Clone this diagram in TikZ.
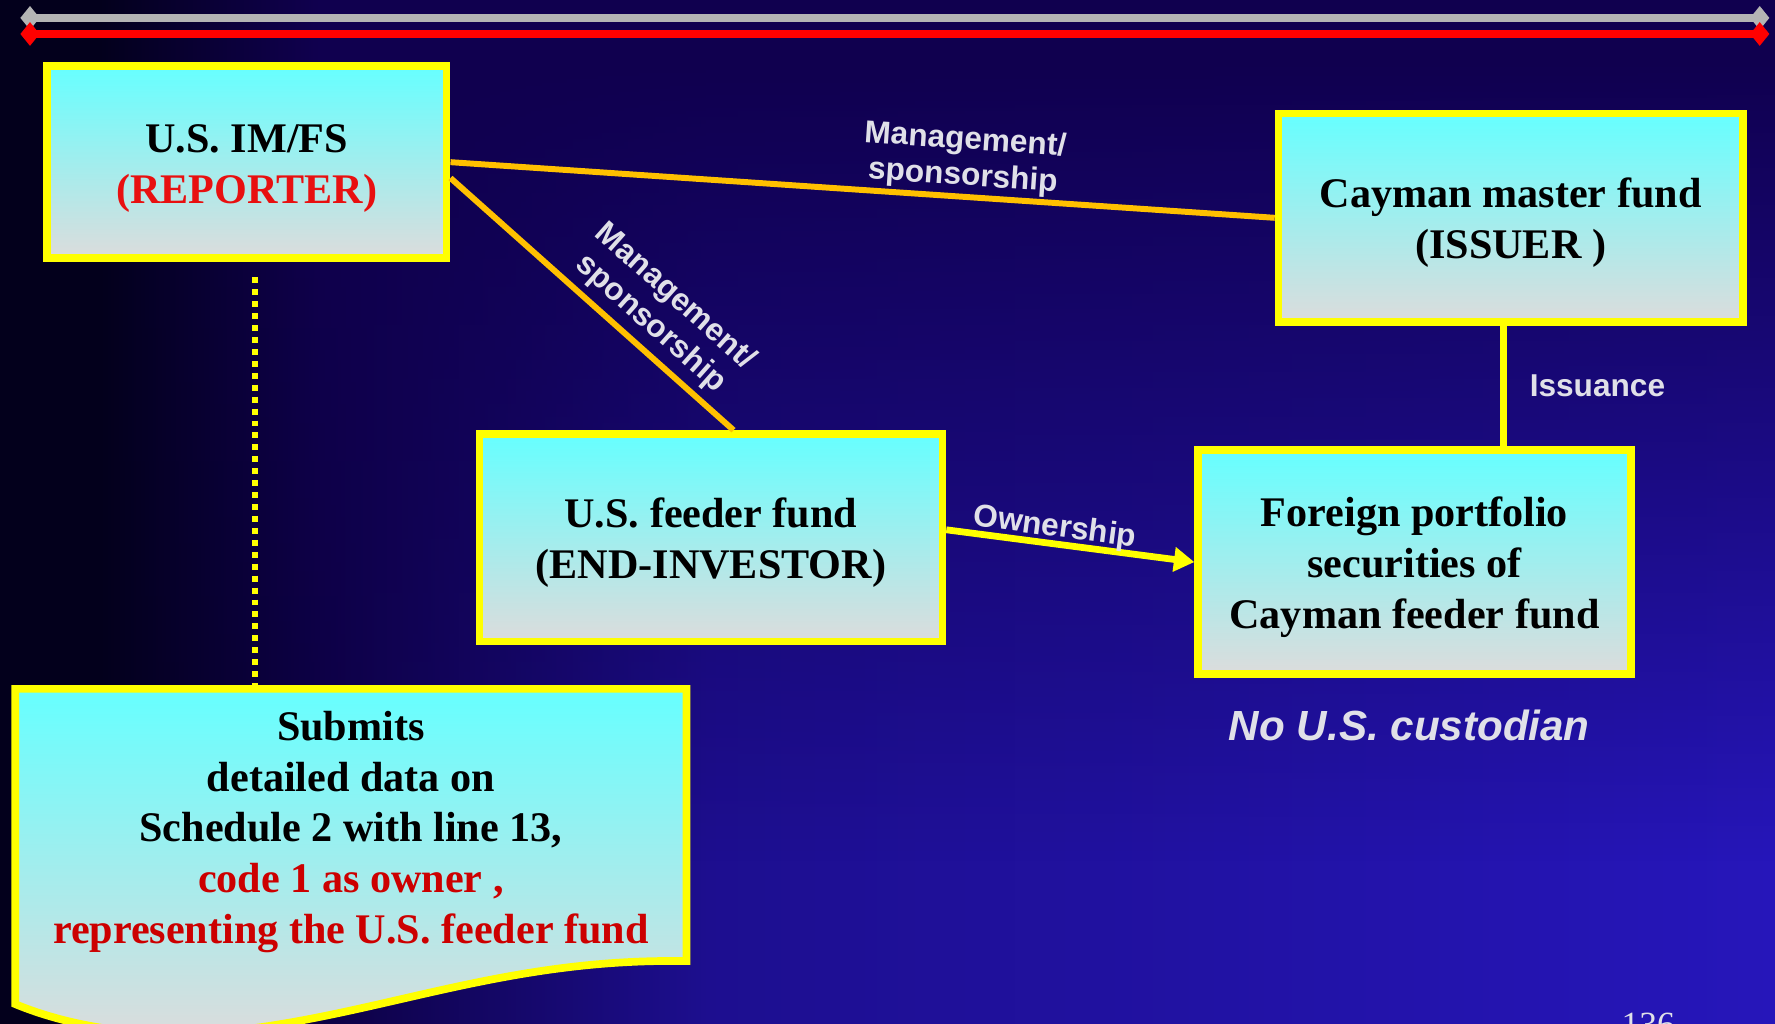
\documentclass[tikz,border=0pt]{standalone}
\usepackage{fontspec}
\setmainfont{Liberation Serif}
\setsansfont{Liberation Sans}
\usepackage{tikz}
\usetikzlibrary{shapes,arrows,arrows.meta}
\usetikzlibrary{calc}
\usetikzlibrary{positioning,fadings}
\definecolor{bgtop}{HTML}{10004F}
\definecolor{bgdark}{HTML}{03001C}
\definecolor{bgmid}{HTML}{0C0040}
\definecolor{bgblue}{HTML}{2616BA}
\colorlet{bgmidblue}{bgblue!65!bgmid}
\definecolor{bxcyan}{HTML}{66FFFF}
\definecolor{bxgray}{HTML}{DCDCDC}
\definecolor{bxyellow}{HTML}{FFFF00}
\definecolor{mgorange}{HTML}{FFC000}
\definecolor{lblgray}{HTML}{E0E0E8}
\definecolor{bargray}{HTML}{B4B4B4}
\definecolor{barred}{HTML}{FF0000}
\definecolor{txtred}{HTML}{CC0000}
\definecolor{repred}{HTML}{E81010}
\pgfdeclarehorizontalshading{bgshade}{100bp}{color(0bp)=(bgdark); color(25bp)=(bgdark); color(27.8bp)=(bgdark); color(33.5bp)=(bgmid); color(45bp)=(bgmidblue); color(75bp)=(bgblue); color(100bp)=(bgblue)}
\pgfdeclarehorizontalshading{topshade}{100bp}{color(0bp)=(bgdark); color(25bp)=(bgdark); color(27.8bp)=(bgdark); color(34bp)=(bgtop); color(100bp)=(bgtop)}
% extra room above the lines pushes the text a little down in its box
\newcommand{\boxlines}[1]{\raisebox{0pt}[\dimexpr\height+0.19cm\relax][\depth]{\begin{tabular}{@{}c@{}}#1\end{tabular}}}
\tikzstyle{fundbox} = [draw=bxyellow, line width=3.86pt, top color=bxcyan, bottom color=bxgray, inner sep=0pt, font=\bfseries\fontsize{21.2}{25.6}\selectfont]
\tikzstyle{docshape} = [draw=bxyellow, line width=3.86pt, top color=bxcyan, bottom color=bxgray]
\tikzstyle{doctext} = [inner sep=0pt, font=\bfseries\fontsize{21.2}{25.6}\selectfont]
\tikzstyle{mgline} = [draw=mgorange, line width=3pt]
\tikzstyle{link} = [draw=bxyellow, line width=3.4pt]
\tikzstyle{ownline} = [link, -{Triangle[length=0.36cm,width=0.42cm]}]
\tikzstyle{dotline} = [draw=bxyellow, line width=3pt, dash pattern=on 3pt off 3pt]
\tikzstyle{topbar} = [line width=3.86pt, {Diamond[length=0.34cm,width=0.42cm]}-{Diamond[length=0.34cm,width=0.42cm]}]
\tikzstyle{lbl} = [text=lblgray, align=center, font=\sffamily\bfseries\fontsize{15.9}{18.2}\selectfont]

\begin{document}
\begin{tikzpicture}[x=0.02cm,y=0.02cm]
 \shade[shading=bgshade] (0,-53) rectangle (1568,-904);
 \shade[shading=topshade, path fading=south] (0,-53) rectangle (1568,-760);
 \shade[shading=topshade] (0,0) rectangle (1568,-53);
 \useasboundingbox (0,0) rectangle (1568,-904);
 \draw [topbar, bargray] (18,-15.8) -- (1563,-15.8);
 \draw [topbar, barred] (18,-30) -- (1563,-30);

 \node [fundbox, minimum width=7.064cm, minimum height=3.394cm] (RP) at (218,-143.25) {\boxlines{U.S. IM/FS\\ \textcolor{repred}{(REPORTER)}}};
 \node [fundbox, minimum width=8.204cm, minimum height=3.684cm] (MF) at (1334.5,-192.4) {\boxlines{Cayman master fund\\ (ISSUER )}};
 \node [fundbox, minimum width=8.184cm, minimum height=3.664cm] (FF) at (628,-475) {\boxlines{U.S. feeder fund\\ (END-INVESTOR)}};
 \node [fundbox, minimum width=7.644cm, minimum height=3.964cm] (FP) at (1249.5,-496.5) {\boxlines{Foreign portfolio\\ securities of\\ Cayman feeder fund}};

 \coordinate (ST) at (225,-608.5);
 \path [dotline] ($(RP.south)+(7,-13.5)$) -- (ST);
 \path [docshape] (13.5,-608.5) -- (606.5,-608.5) -- (606.5,-849) .. controls (440,-846) and (330,-900) .. (190,-912) .. controls (100,-918) and (40,-898) .. (13.5,-887) -- cycle;
 \node [doctext] (SD) at (310,-730) {\boxlines{Submits\\ detailed data on\\ Schedule 2 with line 13,\\ \textcolor{txtred}{code 1 as owner ,}\\ \textcolor{txtred}{representing the U.S. feeder fund}}};

 \path [mgline] (RP.east) -- (MF.west) node[lbl, pos=0.62, above=-0.8mm, sloped] {Management/\\ sponsorship};
 \path [mgline] ($(RP.east)+(0,-14)$) -- ($(FF.north)+(20,0)$) node[lbl, pos=0.65, above, sloped] {Management/\\ sponsorship};
 \path [ownline] ($(FF.east)+(0,7)$) -- (FP.west) node[lbl, pos=0.43, above=-1.6mm, sloped] {Ownership};
 \path [link] ($(MF.south)+(-6.5,0)$) coordinate (IS) -- (IS |- FP.north) node[lbl, pos=0.5, right=2.9mm] {Issuance};

 \node [lbl, font=\sffamily\bfseries\itshape\fontsize{21.2}{25}\selectfont] (NC) at (1245,-641) {No U.S. custodian};
 \node [text=lblgray, anchor=base, font=\fontsize{17.8}{20}\selectfont] (PG) at (1456,-916) {136};
\end{tikzpicture}
\end{document}
